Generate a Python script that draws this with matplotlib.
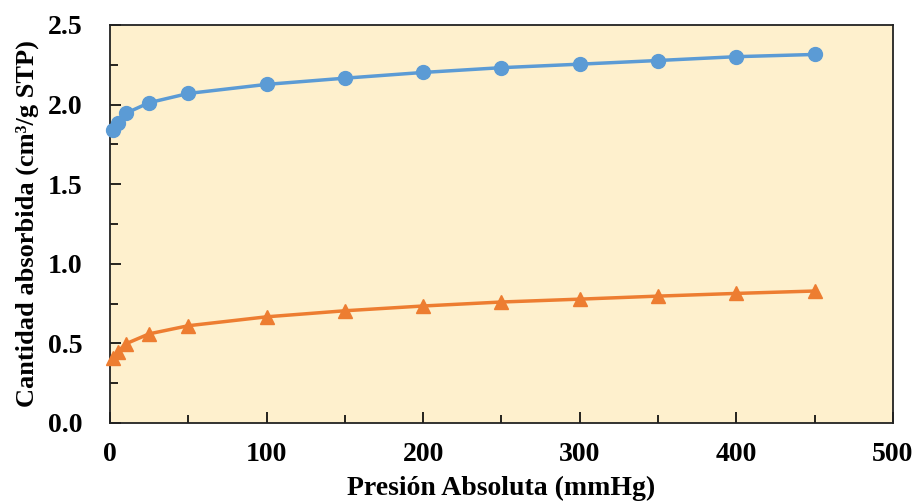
import numpy as np
import matplotlib.pyplot as plt
from matplotlib.ticker import MultipleLocator

# datos
presion = [2, 5, 10, 25, 50, 100, 150, 200, 250, 300, 350, 400, 450]
serie_azul = [1.84, 1.885, 1.945, 2.012, 2.07, 2.127, 2.166, 2.202, 2.232, 2.254, 2.277, 2.301, 2.315]
serie_naranja = [0.41, 0.447, 0.497, 0.56, 0.611, 0.667, 0.705, 0.735, 0.76, 0.778, 0.797, 0.814, 0.829]

x_ticks = [0, 100, 200, 300, 400, 500]
y_ticks = [0.0, 0.5, 1.0, 1.5, 2.0, 2.5]

plt.rcParams['font.family'] = 'Liberation Serif'
plt.rcParams['font.weight'] = 'bold'

fig = plt.figure(figsize=(9.2, 5.04), dpi=100)
ax = fig.add_axes([110 / 920, (504 - 423) / 504, 783 / 920, 398 / 504])
ax.set_facecolor('#FEF0CD')

ax.plot(presion, serie_azul, color='#5B9BD5', lw=2.5, marker='o', ms=10, clip_on=False, zorder=3)
ax.plot(presion, serie_naranja, color='#ED7D31', lw=2.5, marker='^', ms=10, clip_on=False, zorder=3)

ax.set_xlim(0, 500)
ax.set_ylim(0, 2.5)
ax.set_xticks(x_ticks)
ax.set_yticks(y_ticks)
ax.set_xticklabels([str(v) for v in x_ticks])
ax.set_yticklabels([f"{v:.1f}" for v in y_ticks])
ax.xaxis.set_minor_locator(MultipleLocator(50))
ax.yaxis.set_minor_locator(MultipleLocator(0.25))
ax.tick_params(which='major', direction='in', length=8, width=1.2, labelsize=20)
ax.tick_params(which='minor', direction='in', length=6, width=1.2)
ax.tick_params(axis='y', which='major', pad=20)
ax.tick_params(axis='x', which='major', pad=14)
for s in ax.spines.values():
    s.set_linewidth(1.3)
    s.set_color('#222222')

ax.set_xlabel('Presión Absoluta (mmHg)', fontsize=20, fontweight='bold', labelpad=6)
ax.set_ylabel('Cantidad absorbida (cm³/g STP)', fontsize=19, fontweight='bold', labelpad=6)

fig.savefig('out.png', dpi=100)
